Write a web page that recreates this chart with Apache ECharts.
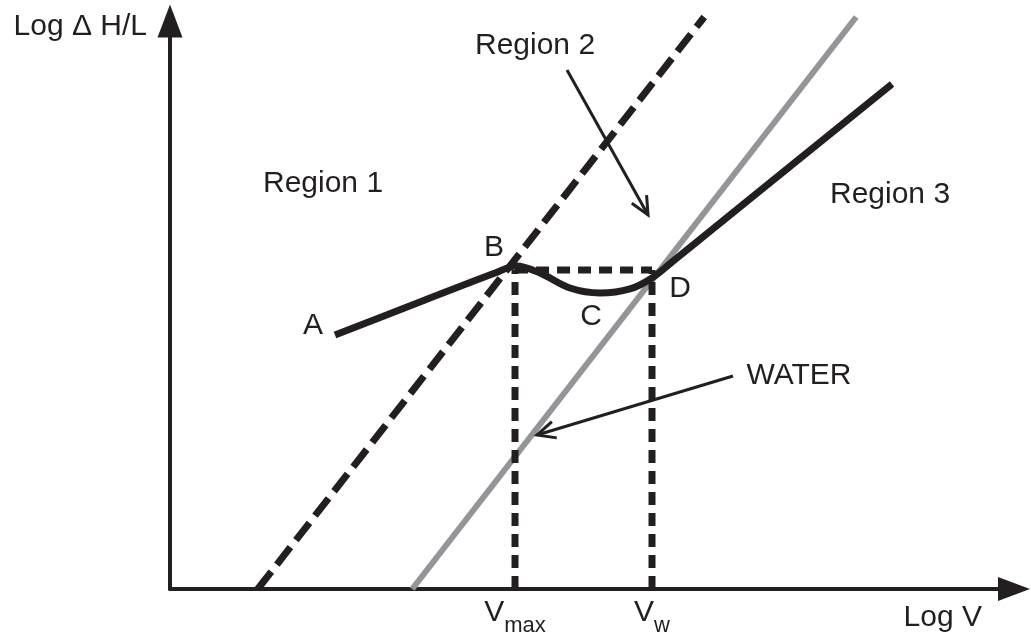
<!DOCTYPE html>
<html>
<head>
<meta charset="utf-8">
<script src="https://cdn.jsdelivr.net/npm/echarts@6/dist/echarts.min.js"></script>
<style>
html,body{margin:0;padding:0;background:#fff;}
#chart{width:1031px;height:637px;}
</style>
</head>
<body>
<div id="chart"></div>
<script>
// ---- data (arbitrary log units) ----
const boundaryLine = [[1.04, 0], [6.33, 10.07]];          // Region 1 / Region 2 boundary (dashed)
const waterLine = [[2.87, 0], [8.13, 10.07]];             // WATER reference line (grey)
const frictionCurve = [
  [1.955, 4.472], [3.021, 5.088], [3.851, 5.563], [4.100, 5.687],
  [4.384, 5.563], [4.739, 5.299], [5.095, 5.211], [5.450, 5.282],
  [5.711, 5.475], [5.948, 5.757], [8.555, 8.891]
];
const vMax = 4.088;
const vW = 5.711;
const plateauLevel = 5.616;
const tickValues = [vMax, vW];
const tickMain = ['V', 'V'];
const tickSub = ['max', 'w'];
const labelNames = ['Region 1', 'Region 2', 'Region 3', 'A', 'B', 'C', 'D', 'WATER'];
const labelX = [1.813, 4.325, 8.531, 1.694, 3.839, 4.988, 6.043, 7.453];
const labelY = [7.13, 9.56, 6.95, 4.63, 6.00, 4.79, 5.28, 3.75];
const arrowFrom = [[4.704, 9.137], [6.671, 3.750]];
const arrowTo = [[5.664, 6.585], [4.348, 2.711]];

// ---- chart ----
const INK = '#231f20';
const GREY = '#939598';
const FONT = 'Liberation Sans, Arial, Helvetica, sans-serif';

const chart = echarts.init(document.getElementById('chart'), null, {renderer: 'canvas'});

const labelData = labelNames.map((n, i) => ({name: n, value: [labelX[i], labelY[i]]}));
const arrowData = arrowFrom.map((f, i) => [f[0], f[1], arrowTo[i][0], arrowTo[i][1]]);

function renderArrow(params, api) {
  const p1 = api.coord([api.value(0), api.value(1)]);
  const p2 = api.coord([api.value(2), api.value(3)]);
  const ang = Math.atan2(p1[1] - p2[1], p1[0] - p2[0]);
  const L = 20, half = 25 * Math.PI / 180;
  const w1 = [p2[0] + L * Math.cos(ang + half), p2[1] + L * Math.sin(ang + half)];
  const w2 = [p2[0] + L * Math.cos(ang - half), p2[1] + L * Math.sin(ang - half)];
  const st = {stroke: INK, lineWidth: 3, fill: null};
  return {
    type: 'group',
    children: [
      {type: 'polyline', shape: {points: [p1, p2]}, style: st},
      {type: 'polyline', shape: {points: [w1, p2, w2]}, style: st}
    ]
  };
}

const option = {
  animation: false,
  backgroundColor: '#ffffff',
  textStyle: {fontFamily: FONT, color: INK},
  grid: {left: 170, right: 17, top: 21, bottom: 48, containLabel: false, outerBoundsMode: 'none'},
  xAxis: {
    type: 'value', min: 0, max: 10,
    name: 'Log V', nameLocation: 'end', nameGap: -32,
    nameTextStyle: {fontSize: 30, color: INK, fontFamily: FONT, align: 'right', verticalAlign: 'top', padding: [14, 0, 0, 0]},
    axisLine: {show: true, onZero: false, symbol: ['none', 'triangle'], symbolSize: [24, 32], lineStyle: {color: INK, width: 4}},
    axisTick: {show: false},
    splitLine: {show: false},
    axisLabel: {
      show: true, customValues: tickValues, margin: 0, color: INK,
      formatter: function (v) {
        const i = tickValues.indexOf(v);
        return i < 0 ? '' : '{v|' + tickMain[i] + '}{s|' + tickSub[i] + '}';
      },
      rich: {
        v: {fontSize: 30, fontFamily: FONT, color: INK},
        s: {fontSize: 22, fontFamily: FONT, color: INK, padding: [26, 0, 0, 0]}
      }
    }
  },
  yAxis: {
    type: 'value', min: 0, max: 10,
    name: 'Log \u0394 H/L', nameLocation: 'end', nameGap: -6,
    nameTextStyle: {fontSize: 30, color: INK, fontFamily: FONT, align: 'right', verticalAlign: 'middle', padding: [0, 23, 0, 0]},
    axisLine: {show: true, onZero: false, symbol: ['none', 'triangle'], symbolSize: [25, 33], lineStyle: {color: INK, width: 4}},
    axisTick: {show: false},
    splitLine: {show: false},
    axisLabel: {show: false}
  },
  series: [
    {
      name: 'WATER', type: 'line', data: waterLine, showSymbol: false, symbol: 'none', clip: false,
      lineStyle: {color: GREY, width: 6}, z: 2
    },
    {
      name: 'boundary', type: 'line', data: boundaryLine, showSymbol: false, symbol: 'none', clip: false,
      lineStyle: {color: INK, width: 7, type: [22, 9]}, z: 2
    },
    {
      name: 'Vmax', type: 'line', data: [[vMax, 0], [vMax, plateauLevel]], showSymbol: false, symbol: 'none', clip: false,
      lineStyle: {color: INK, width: 7, type: [13, 8]}, z: 3
    },
    {
      name: 'Vw', type: 'line', data: [[vW, 0], [vW, plateauLevel]], showSymbol: false, symbol: 'none', clip: false,
      lineStyle: {color: INK, width: 7, type: [13, 8]}, z: 3
    },
    {
      name: 'plateau', type: 'line', data: [[vMax, plateauLevel], [vW, plateauLevel]], showSymbol: false, symbol: 'none', clip: false,
      lineStyle: {color: INK, width: 7, type: [13, 8]}, z: 3
    },
    {
      name: 'curve', type: 'line', data: frictionCurve, showSymbol: false, symbol: 'none', clip: false,
      smooth: 0.35, lineStyle: {color: INK, width: 7}, z: 4
    },
    {
      name: 'arrows', type: 'custom', data: arrowData, renderItem: renderArrow, clip: false,
      encode: {x: [0, 2], y: [1, 3]}, z: 5
    },
    {
      name: 'labels', type: 'scatter', data: labelData, symbolSize: 1, clip: false,
      itemStyle: {color: 'rgba(0,0,0,0)', opacity: 1},
      label: {show: true, position: 'inside', formatter: '{b}', fontSize: 30, fontFamily: FONT, color: INK, opacity: 1},
      emphasis: {disabled: true},
      z: 6
    }
  ]
};
chart.setOption(option);
</script>
</body>
</html>
